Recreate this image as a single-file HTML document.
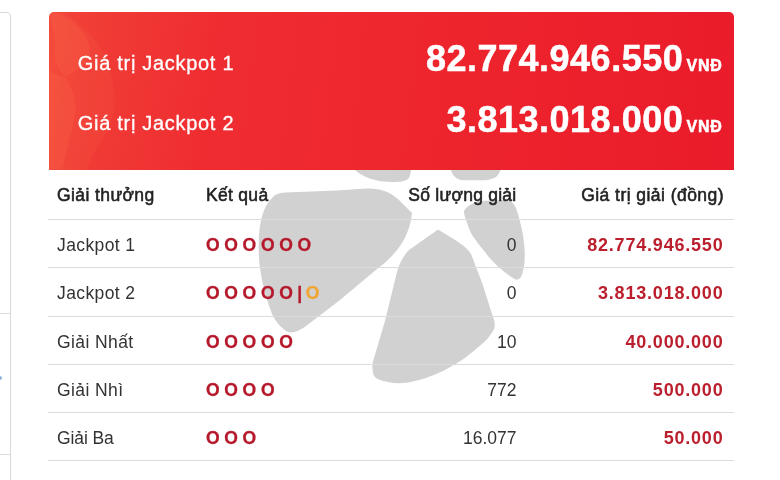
<!DOCTYPE html>
<html lang="vi">
<head>
<meta charset="utf-8">
<title>Vietlott</title>
<style>
html,body{margin:0;padding:0;}
body{width:780px;height:480px;overflow:hidden;background:#fff;position:relative;font-family:"Liberation Sans",sans-serif;}
.left{position:absolute;left:-20px;top:12px;width:31px;height:520px;border:1px solid #d9d9d9;border-radius:4px;box-sizing:border-box;}
.left i{position:absolute;left:0;right:0;height:1px;background:#dcdcdc;}
.red{position:absolute;left:48.5px;top:12.4px;width:685px;height:157.6px;border-radius:5px 5px 0 0;background:linear-gradient(97deg,#f2463a 0%,#f03a35 9%,#ef2d31 24%,#ee252d 55%,#ea1b2a 100%);overflow:hidden;}
.red svg{position:absolute;left:0;top:0;}
.lbl{position:absolute;left:29.3px;-webkit-text-stroke:0.3px #fff;color:#fff;font-size:20px;letter-spacing:0.7px;white-space:nowrap;line-height:24px;}
.val{position:absolute;right:11px;-webkit-text-stroke:0.5px #fff;color:#fff;font-weight:bold;white-space:nowrap;font-size:36px;letter-spacing:0.5px;line-height:40px;}
.val span{font-size:16px;letter-spacing:0.7px;margin-left:3.4px;}
.wm{position:absolute;left:0;top:0;}
.tbl{position:absolute;left:48px;top:170px;width:686px;}
.row{position:relative;height:48.25px;border-bottom:1px solid #dcdcdc;box-sizing:border-box;}
.row.h{height:50px;font-weight:normal;color:#222;}
.c{position:absolute;top:0;line-height:50px;font-size:17.5px;color:#333;white-space:nowrap;}
.row.h .c{line-height:51px;color:#222;-webkit-text-stroke:0.55px #222;}
.c1{left:9px;letter-spacing:0.4px;}
.c2{left:158px;color:#b5182a;-webkit-text-stroke:0.3px #b5182a;font-weight:bold;letter-spacing:4.7px;}
.c3{right:217.5px;text-align:right;}
.c4{right:10.5px;text-align:right;color:#bb1f2d;font-weight:bold;font-size:18px;letter-spacing:0.8px;}
.or{color:#f0a535;-webkit-text-stroke:0.3px #f0a535;margin-left:1px;}
</style>
</head>
<body>
<div class="left"><i style="top:300px"></i><i style="top:441px"></i></div>
<div style="position:absolute;left:0;top:376px;width:2px;height:4px;background:#8fb4dc;border-radius:0 2px 2px 0"></div>
<svg class="wm" width="780" height="480" viewBox="0 0 780 480">
 <g fill="#d1d1d1">
  <path d="M272 198 C275 194 279 193 285 192.5 L337 190.5 L366 188.5 C380 188 390 192 398 199 L412 213 C411 222 408 235 400 246 C393 256 385 263 377 269 L340 300 L306 326 C298 332 291 334 286 331 C279 326 275 320 272 314 C265 295 260 275 259 258 C258 240 259 225 263 213 C266 205 269 201 272 198 Z"/>
  <path d="M355 170 C358 173 362 175 366 177 C371 179 376 180.5 381 181.3 C387 182.2 393 182.3 399 181.8 C403 181.4 406 180.5 408 179 C410 177 410.5 174 411 170 Z"/>
  <path d="M451 170 C452 173 453 175 455 177 C457 179 460 180 463 180.3 L484 180.3 C489 180 493 179 496 177 C498 175 499.5 173 500.5 170 Z"/>
  <path d="M464 211 C467 206 472 203 480 201 L505 200 C511 200 514 203 516 208 C520 220 523 232 524 243 C525 252 525 260 524 266 C523 272 522 276 520 278 C518 280 516 280 513 278 C509 276 506 273 502 270 C496 265 490 259 485 252 C480 246 476 241 472 235 C469 229 467 223 465 217 C464 214 464 212 464 211 Z"/>
  <path d="M438 229.5 L456 240.5 C464 246 468 249 471 254 L482.5 284 L492 314 C495 322 496 326 493 331 C489 337 486 341 482 344 C470 354 462 361 452 366 C440 373 428 378 415 381 C405 383.5 396 384 388 382 C378 380 373 378 373 372 C372 367 372 364 374 358 L385 321 L396 276 C399 264 403 256 409 250 Z"/>
 </g>
</svg>
<div class="red">
 <svg width="685" height="158" viewBox="48.5 12.4 685 158">
  <path d="M48 12 L60 12 C68 16 72 19 76 23 C85 30 92 37 97 44 C104 54 108 64 111 76 C113 86 115 96 114 108 C112 125 102 140 93 154 L86 171 L48 171 Z" fill="#ff8258" opacity="0.10"/>
  <path d="M49 12 C62 14 72 21 80 30 C87 38 90 46 89 54 C86 62 80 68 75 71 C71 74 68 76 65 77 C60 72 57 68 56 63 C54 55 54 48 55 42 C53 32 51 22 49 12 Z" fill="#ff7a50" opacity="0.16"/>
  <path d="M48 70 C55 74 60 77 65 78 C72 90 76 100 75 112 C73 130 66 145 62 170 L48 170 Z" fill="#ff7a50" opacity="0.16"/>
 </svg>
 <div class="lbl" style="top:38.5px">Giá trị Jackpot 1</div>
 <div class="lbl" style="top:98.5px">Giá trị Jackpot 2</div>
 <div class="val" style="top:27px">82.774.946.550<span>VNĐ</span></div>
 <div class="val" style="top:87.7px">3.813.018.000<span>VNĐ</span></div>
</div>
<div class="tbl">
 <div class="row h"><div class="c c1">Giải thưởng</div><div class="c" style="left:158px;letter-spacing:0.3px">Kết quả</div><div class="c c3" style="color:#222;letter-spacing:0.25px">Số lượng giải</div><div class="c" style="right:10px;color:#222;letter-spacing:0.45px">Giá trị giải (đồng)</div></div>
 <div class="row"><div class="c c1">Jackpot 1</div><div class="c c2">OOOOOO</div><div class="c c3">0</div><div class="c c4">82.774.946.550</div></div>
 <div class="row"><div class="c c1">Jackpot 2</div><div class="c c2">OOOOO<span style="letter-spacing:2.6px;margin-left:-0.4px">|</span><span class="or">O</span></div><div class="c c3">0</div><div class="c c4">3.813.018.000</div></div>
 <div class="row"><div class="c c1">Giải Nhất</div><div class="c c2">OOOOO</div><div class="c c3">10</div><div class="c c4">40.000.000</div></div>
 <div class="row"><div class="c c1">Giải Nhì</div><div class="c c2">OOOO</div><div class="c c3">772</div><div class="c c4">500.000</div></div>
 <div class="row"><div class="c c1" style="letter-spacing:-0.1px">Giải Ba</div><div class="c c2">OOO</div><div class="c c3">16.077</div><div class="c c4">50.000</div></div>
</div>
</body>
</html>
